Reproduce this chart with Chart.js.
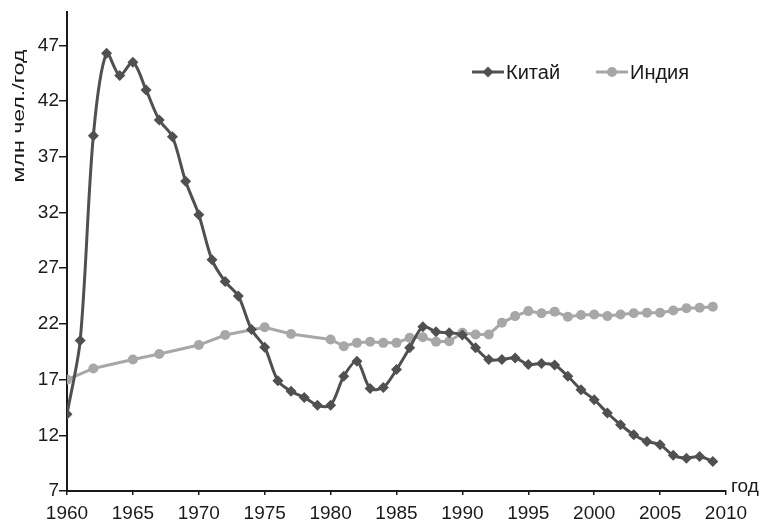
<!DOCTYPE html>
<html><head><meta charset="utf-8">
<script src="https://cdn.jsdelivr.net/npm/chart.js@4/dist/chart.umd.min.js"></script>
<style>html,body{margin:0;padding:0;background:#fff}#wrap{width:766px;height:523px}</style>
</head><body><div id="wrap"><canvas id="c" width="766" height="523"></canvas></div>
<script>
const chinaYears = [1960,1961,1962,1963,1964,1965,1966,1967,1968,1969,1970,1971,1972,1973,1974,1975,1976,1977,1978,1979,1980,1981,1982,1983,1984,1985,1986,1987,1988,1989,1990,1991,1992,1993,1994,1995,1996,1997,1998,1999,2000,2001,2002,2003,2004,2005,2006,2007,2008,2009];
const chinaValues = [13.9,20.5,38.9,46.3,44.3,45.5,43.0,40.3,38.8,34.8,31.8,27.75,25.8,24.5,21.5,19.9,16.9,15.95,15.4,14.7,14.7,17.3,18.65,16.2,16.3,17.9,19.85,21.75,21.3,21.2,21.0,19.85,18.8,18.8,18.95,18.35,18.45,18.3,17.3,16.1,15.2,14.0,12.95,12.05,11.45,11.15,10.2,9.95,10.1,9.65];
const indiaYears = [1960,1962,1965,1967,1970,1972,1975,1977,1980,1981,1982,1983,1984,1985,1986,1987,1988,1989,1990,1991,1992,1993,1994,1995,1996,1997,1998,1999,2000,2001,2002,2003,2004,2005,2006,2007,2008,2009];
const indiaValues = [17.0,18.0,18.8,19.3,20.1,21.0,21.7,21.1,20.6,20.0,20.3,20.4,20.3,20.3,20.75,20.8,20.4,20.45,21.2,21.05,21.05,22.1,22.7,23.15,22.95,23.1,22.65,22.8,22.85,22.7,22.85,22.95,23.0,23.0,23.2,23.4,23.45,23.55];
const xTicks = [1960,1965,1970,1975,1980,1985,1990,1995,2000,2005,2010];
const yTicks = [7,12,17,22,27,32,37,42,47];
const seriesNames = ['Китай','Индия'];
const yTitle = 'млн чел./год';
const xUnit = 'год';

const chinaColor = '#4f5052';
const indiaColor = '#a7a7aa';
const axisColor = '#1a1a1a';
const textColor = '#1a1a1a';
const FONT = 'Liberation Sans, Arial, sans-serif';

const toPts = (xs, ys) => xs.map((x, i) => ({x: x, y: ys[i]}));

const extras = {
  id: 'extras',
  afterDraw(chart) {
    const ctx = chart.ctx;
    const ca = chart.chartArea;
    ctx.save();
    ctx.fillStyle = textColor;
    // x unit label
    ctx.font = '19px ' + FONT;
    ctx.textBaseline = 'middle';
    ctx.textAlign = 'left';
    ctx.fillText(xUnit, ca.right + 5, ca.bottom - 4);
    // y title (rotated, stretched along its length like the reference)
    ctx.save();
    ctx.translate(24, 116);
    ctx.rotate(-Math.PI / 2);
    ctx.scale(1.36, 1);
    ctx.font = '17px ' + FONT;
    ctx.textAlign = 'center';
    ctx.textBaseline = 'alphabetic';
    ctx.fillText(yTitle, 0, 0);
    ctx.restore();
    // legend
    const ly = 72;
    const items = [
      {x: 472, color: chinaColor, style: 'rectRot', r: 5.5, name: seriesNames[0]},
      {x: 596, color: indiaColor, style: 'circle', r: 5, name: seriesNames[1]}
    ];
    ctx.font = '20px ' + FONT;
    ctx.textBaseline = 'middle';
    ctx.textAlign = 'left';
    items.forEach(it => {
      ctx.strokeStyle = it.color;
      ctx.lineWidth = 3;
      ctx.beginPath();
      ctx.moveTo(it.x, ly);
      ctx.lineTo(it.x + 32, ly);
      ctx.stroke();
      ctx.fillStyle = it.color;
      Chart.helpers.drawPoint(ctx, {pointStyle: it.style, radius: it.r, borderWidth: 0}, it.x + 16, ly);
      ctx.fillStyle = textColor;
      ctx.fillText(it.name, it.x + 34, ly + 1);
    });
    ctx.restore();
  }
};

new Chart(document.getElementById('c'), {
  type: 'line',
  data: {
    datasets: [
      {label: seriesNames[0], data: toPts(chinaYears, chinaValues), borderColor: chinaColor, backgroundColor: chinaColor,
       borderWidth: 3, pointStyle: 'rectRot', pointRadius: 5.5, pointBorderWidth: 0, tension: 0.3},
      {label: seriesNames[1], data: toPts(indiaYears, indiaValues), borderColor: indiaColor, backgroundColor: indiaColor,
       borderWidth: 3, pointStyle: 'circle', pointRadius: 5, pointBorderWidth: 0, tension: 0}
    ]
  },
  options: {
    responsive: false, animation: false, devicePixelRatio: 1,
    layout: {padding: {top: 12, right: 40, bottom: 0, left: 0}},
    plugins: {legend: {display: false}, tooltip: {enabled: false}},
    scales: {
      x: {
        type: 'linear', min: 1960, max: 2010,
        afterBuildTicks: s => { s.ticks = xTicks.map(v => ({value: v})); },
        afterFit: s => { s.height = 32; },
        ticks: {color: textColor, font: {size: 19, family: FONT}, padding: 7, maxRotation: 0, autoSkip: false, callback: v => String(v)},
        grid: {drawOnChartArea: false, drawTicks: true, tickLength: 4, color: axisColor, lineWidth: 1.5},
        border: {color: axisColor, width: 2}
      },
      y: {
        min: 7, max: 50,
        afterBuildTicks: s => { s.ticks = yTicks.map(v => ({value: v})); },
        afterFit: s => { s.width = 67; },
        ticks: {color: textColor, font: {size: 19, family: FONT}, padding: 0, autoSkip: false},
        grid: {drawOnChartArea: false, drawTicks: true, tickLength: 8, color: axisColor, lineWidth: 1.5},
        border: {color: axisColor, width: 2}
      }
    }
  },
  plugins: [extras]
});
</script></body></html>
